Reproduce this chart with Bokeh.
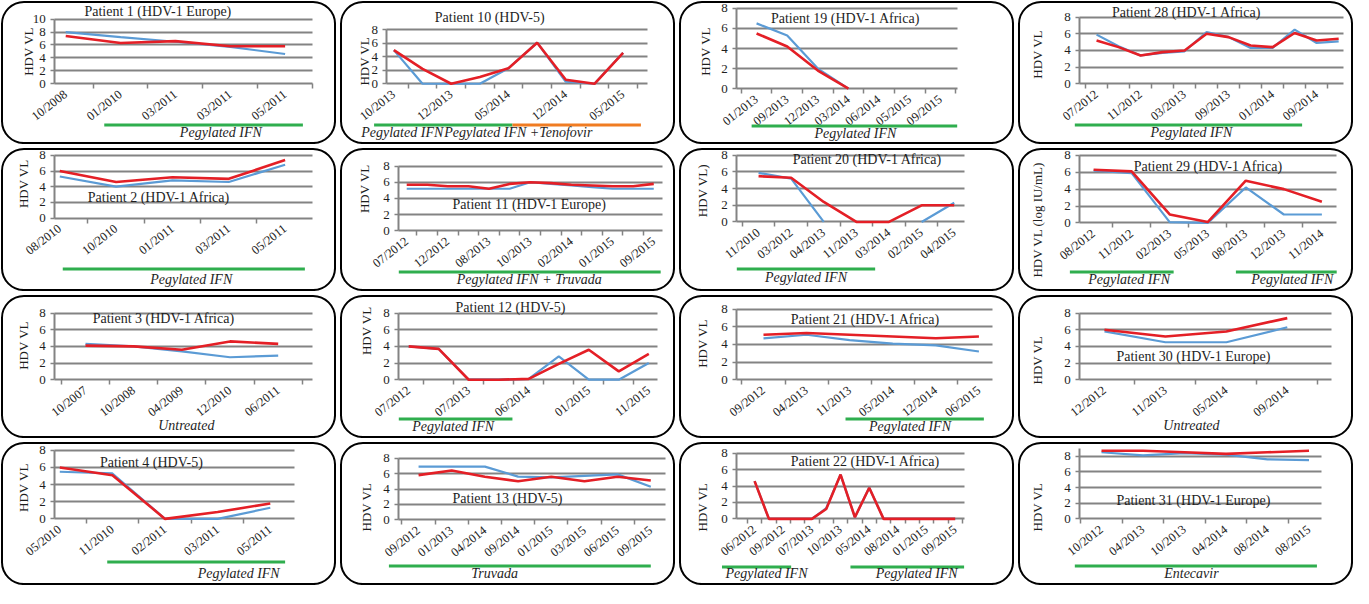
import math
import numpy as np
from bokeh.plotting import figure
from bokeh.models import Range1d, FixedTicker, Label, BoxAnnotation, LinearAxis, Grid
from bokeh.layouts import column, row
from bokeh.embed import file_html
from bokeh.resources import INLINE

NaN = float("nan")

# ---------------- data ----------------
P1_LABELS = ["10/2008", "01/2010", "03/2011", "03/2011", "05/2011"]
P1_BLUE = [8.0, 7.2, 6.5, 5.7, 4.6]
P1_RED = [7.4, 6.3, 6.6, 5.8, 5.8]

P10_LABELS = ["10/2013", "", "12/2013", "", "05/2014", "", "12/2014", "", "05/2015"]
P10_BLUE = [5.0, 0.0, 0.0, 0.0, 2.3, 6.1, 0.3, 0.0, 4.6]
P10_RED = [5.0, 2.2, 0.0, 1.0, 2.3, 6.1, 0.6, 0.0, 4.6]

P19_LABELS = ["01/2013", "09/2013", "12/2013", "03/2014", "06/2014", "05/2015", "09/2015"]
P19_BLUE = [6.5, 5.3, 2.0, 0.0, NaN, NaN, NaN]
P19_RED = [5.5, 4.2, 1.8, 0.0, NaN, NaN, NaN]

P28_LABELS = ["07/2012", "", "11/2012", "", "03/2013", "", "09/2013", "", "01/2014", "", "09/2014", ""]
P28_BLUE = [5.9, 4.5, 3.4, 3.7, 3.9, 6.2, 5.6, 4.3, 4.3, 6.5, 4.9, 5.1]
P28_RED = [5.2, 4.4, 3.4, 3.8, 4.0, 6.0, 5.6, 4.6, 4.4, 6.1, 5.2, 5.4]

P2_LABELS = ["08/2010", "10/2010", "01/2011", "03/2011", "05/2011"]
P2_BLUE = [5.3, 4.0, 4.8, 4.6, 6.8]
P2_RED = [6.0, 4.6, 5.2, 5.0, 7.4]

P11_LABELS = ["07/2012", "", "12/2012", "", "08/2013", "", "10/2013", "", "02/2014", "", "01/2015", "", "09/2015"]
P11_BLUE = [5.2, 5.2, 5.2, 5.2, 5.2, 5.2, 6.0, 5.8, 5.6, 5.4, 5.2, 5.2, 5.2]
P11_RED = [5.7, 5.7, 5.5, 5.5, 5.2, 5.8, 6.0, 5.9, 5.7, 5.6, 5.5, 5.5, 5.8]

P20_LABELS = ["11/2010", "03/2012", "04/2013", "11/2013", "03/2014", "02/2015", "04/2015"]
P20_BLUE = [5.9, 5.2, 0.0, NaN, NaN, 0.0, 2.3]
P20_RED = [5.5, 5.3, 2.4, 0.0, 0.0, 2.0, 2.0]

P29_LABELS = ["08/2012", "11/2012", "02/2013", "05/2013", "08/2013", "12/2013", "11/2014"]
P29_BLUE = [6.2, 5.9, 0.1, 0.0, 4.2, 1.0, 1.0]
P29_RED = [6.3, 6.1, 1.0, 0.1, 5.0, 4.0, 2.5]

P3_LABELS = ["10/2007", "10/2008", "04/2009", "12/2010", "06/2011"]
P3_BLUE = [4.3, 4.0, 3.4, 2.7, 2.9]
P3_RED = [4.1, 4.0, 3.6, 4.6, 4.3]

P12_LABELS = ["07/2012", "", "07/2013", "", "06/2014", "", "01/2015", "", "11/2015"]
P12_BLUE = [4.0, 3.7, 0.0, 0.0, 0.1, 2.8, 0.0, 0.0, 2.0]
P12_RED = [4.0, 3.7, 0.0, 0.0, 0.1, 1.9, 3.6, 1.0, 3.1]

P21_LABELS = ["09/2012", "04/2013", "11/2013", "05/2014", "12/2014", "06/2015"]
P21_BLUE = [4.7, 5.1, 4.5, 4.1, 3.9, 3.2]
P21_RED = [5.1, 5.3, 5.1, 4.9, 4.7, 4.9]

P30_LABELS = ["12/2012", "11/2013", "05/2014", "09/2014"]
P30_BLUE = [5.8, 4.5, 4.5, 6.3]
P30_RED = [6.0, 5.2, 5.8, 7.4]

P4_LABELS = ["05/2010", "11/2010", "02/2011", "03/2011", "05/2011"]
P4_BLUE = [5.5, 5.3, 0.0, 0.0, 1.3]
P4_RED = [6.0, 5.1, 0.0, 0.8, 1.8]

P13_LABELS = ["09/2012", "01/2013", "04/2014", "09/2014", "01/2015", "03/2015", "06/2015", "09/2015"]
P13_BLUE = [6.9, 6.9, 6.9, 5.6, 5.5, 5.7, 5.9, 4.3]
P13_RED = [5.8, 6.4, 5.6, 5.0, 5.6, 5.0, 5.6, 5.1]

P22_LABELS = ["06/2012", "", "09/2012", "", "07/2013", "", "10/2013", "", "05/2014", "",
              "08/2014", "", "01/2015", "", "09/2015"]
P22_BLUE = [4.6, 0, 0, 0, 0, 1.3, 5.4, 0.2, 3.8, 0, 0, 0, 0, 0, 0]
P22_RED = [4.6, 0, 0, 0, 0, 1.2, 5.4, 0.2, 3.8, 0, 0, 0, 0, 0, 0]

P31_LABELS = ["10/2012", "04/2013", "10/2013", "04/2014", "08/2014", "08/2015"]
P31_BLUE = [8.5, 8.1, 8.4, 8.2, 7.6, 7.5]
P31_RED = [8.7, 8.7, 8.5, 8.3, 8.5, 8.7]

# ---------------- style ----------------
BLUE = "#5b9bd5"
RED = "#e41f26"
GREEN = "#2fae4e"
ORANGE = "#f07c22"
GRAY = "#838383"
INK = "#1e1e1e"
SERIF = "Liberation Serif"

PW, PH = 340.0, 147.0   # reference panel units
FW, FH = 336, 144       # figure size in pixels

HAS_CROSS = "cross_bounds" in Grid.properties()
HAS_RADIUS = "border_radius" in BoxAnnotation.properties()


def make_panel(labels, blue, red, title, ytop, geo, ylabel="HDV VL", bars=(), notes=(), ybound=None):
    n = len(labels)
    p0, pN = geo["p0"], geo["pN"]
    dx = (pN - p0) / (n - 1)
    v = ytop / (geo["y0"] - geo["yT"])
    xr = Range1d(-p0 / dx, (PW - p0) / dx)
    yr = Range1d(-(PH - geo["y0"]) * v, ytop + geo["yT"] * v)
    p = figure(width=FW, height=FH, x_range=xr, y_range=yr, x_axis_type=None, y_axis_type=None,
               output_backend="svg", toolbar_location=None, min_border=0)
    p.min_border_left = p.min_border_right = p.min_border_top = p.min_border_bottom = 0
    p.outline_line_color = None
    p.background_fill_color = "white"
    p.border_fill_color = "white"
    p.extra_x_ranges = {"px": Range1d(0, PW)}
    p.extra_y_ranges = {"py": Range1d(PH, 0)}

    xa = (geo["axL"] - p0) / dx
    xb = (geo["axR"] - p0) / dx

    # horizontal grid lines
    gticks = list(range(2, ytop + 1, 2))
    if HAS_CROSS:
        g = Grid(dimension=1, ticker=FixedTicker(ticks=gticks), grid_line_color=GRAY,
                 grid_line_width=2, cross_bounds=(xa, xb))
        p.add_layout(g)
    else:
        p.segment(x0=[xa] * len(gticks), x1=[xb] * len(gticks), y0=gticks, y1=gticks,
                  line_color=GRAY, line_width=2)

    # x axis (categories)
    idx = list(range(n))
    major = [i for i in idx if labels[i]]
    minor = [k + 0.5 for k in range(-1, n) if xa - 1e-6 <= k + 0.5 <= xb + 1e-6]
    xaxis = LinearAxis(fixed_location=0, bounds=(xa, xb),
                       ticker=FixedTicker(ticks=major, minor_ticks=minor),
                       major_label_overrides={i: labels[i] for i in major},
                       major_label_orientation=0.66,
                       major_label_text_font=SERIF, major_label_text_font_size="12.5px",
                       major_label_text_color=INK, major_label_standoff=4,
                       major_tick_out=0, major_tick_in=0,
                       minor_tick_out=5, minor_tick_in=0, minor_tick_line_color=GRAY,
                       minor_tick_line_width=1.5,
                       axis_line_color=GRAY, axis_line_width=2)
    xaxis.level = "underlay"
    p.add_layout(xaxis, "below")

    yaxis = LinearAxis(fixed_location=xa, bounds=(0, ybound if ybound else ytop),
                       ticker=FixedTicker(ticks=list(range(0, ytop + 1, 2)), minor_ticks=[]),
                       major_label_text_font=SERIF, major_label_text_font_size="13px",
                       major_label_text_color=INK, major_label_standoff=5,
                       major_tick_out=4, major_tick_in=0, major_tick_line_color=GRAY,
                       major_tick_line_width=1.5,
                       minor_tick_out=0, minor_tick_in=0,
                       axis_line_color=GRAY, axis_line_width=2)
    yaxis.level = "underlay"
    p.add_layout(yaxis, "left")

    # series
    p.line(idx, np.array(blue, dtype=float), line_color=BLUE, line_width=2.2)
    p.line(idx, np.array(red, dtype=float), line_color=RED, line_width=2.6)

    # title
    p.add_layout(Label(x=geo["tx"], y=geo["ty"], x_range_name="px", y_range_name="py", text=title,
                       text_align="center", text_baseline="middle", text_font=SERIF,
                       text_font_size="14px", text_color=INK))
    # y label
    p.add_layout(Label(x=geo["lx"], y=geo["ly"], x_range_name="px", y_range_name="py", text=ylabel,
                       angle=math.pi / 2, text_align="center", text_baseline="middle",
                       text_font=SERIF, text_font_size="13px", text_color=INK))
    # treatment bars and notes
    for (x0, x1, col, yy) in bars:
        p.segment(x0=[x0], x1=[x1], y0=[yy], y1=[yy], x_range_name="px", y_range_name="py",
                  line_color=col, line_width=3)
    for (txt, tx, ty, al) in notes:
        p.add_layout(Label(x=tx, y=ty, x_range_name="px", y_range_name="py", text=txt,
                           text_align=al, text_baseline="middle", text_font=SERIF,
                           text_font_style="italic", text_font_size="14px", text_color=INK))
    # rounded frame
    kw = dict(left=1.5, right=PW - 1.5, top=1.5, bottom=PH - 1.5, x_range_name="px",
              y_range_name="py", fill_alpha=0, fill_color=None, line_color="black",
              line_alpha=1.0, line_width=2)
    if HAS_RADIUS:
        kw["border_radius"] = 22
    p.add_layout(BoxAnnotation(**kw))
    return p


C = "center"
NY = 135  # vertical position of the treatment captions (panel units)
figs = [
    make_panel(P1_LABELS, P1_BLUE, P1_RED, "Patient 1  (HDV-1 Europe)", 10,
               dict(axL=55, p0=66, pN=288, axR=316, yT=19, y0=85, tx=161, ty=11, lx=28, ly=52),
               bars=[(105, 306, GREEN, 127)], notes=[("Pegylated IFN", 223, NY, C)]),
    make_panel(P10_LABELS, P10_BLUE, P10_RED, "Patient 10 (HDV-5)", 8,
               dict(axL=48, p0=55, pN=287, axR=312, yT=30, y0=85, tx=152, ty=17, lx=25, ly=62),
               bars=[(35, 175, GREEN, 127), (175, 305, ORANGE, 127)],
               notes=[("Pegylated IFN", 105, NY, "right"), ("Pegylated IFN +Tenofovir", 106, NY, "left")]),
    make_panel(P19_LABELS, P19_BLUE, P19_RED, "Patient 19 (HDV-1 Africa)", 8,
               dict(axL=59, p0=79, pN=265, axR=282, yT=8, y0=90, tx=169, ty=18, lx=27, ly=52),
               bars=[(74, 282, GREEN, 128)], notes=[("Pegylated IFN", 179, 136, C)]),
    make_panel(P28_LABELS, P28_BLUE, P28_RED, "Patient 28 (HDV-1 Africa)", 8,
               dict(axL=63, p0=80, pN=325, axR=330, yT=17, y0=85, tx=171, ty=12, lx=20, ly=55),
               bars=[(58, 288, GREEN, 127)], notes=[("Pegylated IFN", 176, NY, C)]),

    make_panel(P2_LABELS, P2_BLUE, P2_RED, "Patient 2  (HDV-1 Africa)", 8,
               dict(axL=55, p0=60, pN=288, axR=316, yT=8, y0=72, tx=162, ty=51, lx=23, ly=37),
               bars=[(63, 308, GREEN, 124)], notes=[("Pegylated IFN", 193, NY, C)]),
    make_panel(P11_LABELS, P11_BLUE, P11_RED, "Patient 11 (HDV-1 Europe)", 8,
               dict(axL=60, p0=68, pN=318, axR=327, yT=19, y0=85, tx=192, ty=58, lx=25, ly=42),
               bars=[(60, 325, GREEN, 127)], notes=[("Pegylated IFN + Truvada", 192, NY, C)]),
    make_panel(P20_LABELS, P20_BLUE, P20_RED, "Patient 20 (HDV-1 Africa)", 8,
               dict(axL=59, p0=81, pN=279, axR=289, yT=8, y0=76, tx=191, ty=12, lx=24, ly=44),
               ylabel="HDV VL)",
               bars=[(59, 199, GREEN, 124)], notes=[("Pegylated IFN", 129, 133, C)]),
    make_panel(P29_LABELS, P29_BLUE, P29_RED, "Patient 29 (HDV-1 Africa)", 8,
               dict(axL=63, p0=77, pN=308, axR=323, yT=8, y0=77, tx=193, ty=19, lx=20, ly=72),
               ylabel="HDV VL  (log IU/mL)",
               bars=[(53, 158, GREEN, 127), (221, 323, GREEN, 127)],
               notes=[("Pegylated IFN", 113, NY, C), ("Pegylated IFN", 278, NY, C)]),

    make_panel(P3_LABELS, P3_BLUE, P3_RED, "Patient 3  (HDV-1 Africa)", 8,
               dict(axL=55, p0=86, pN=281, axR=316, yT=19, y0=87, tx=167, ty=24, lx=23, ly=52),
               notes=[("Untreated", 188, 134, C)]),
    make_panel(P12_LABELS, P12_BLUE, P12_RED, "Patient 12 (HDV-5)", 8,
               dict(axL=60, p0=70, pN=313, axR=322, yT=19, y0=87, tx=173, ty=13, lx=27, ly=37),
               bars=[(60, 175, GREEN, 127)], notes=[("Pegylated IFN", 115, NY, C)]),
    make_panel(P21_LABELS, P21_BLUE, P21_RED, "Patient 21 (HDV-1 Africa)", 8,
               dict(axL=59, p0=86, pN=304, axR=318, yT=15, y0=87, tx=189, ty=26, lx=24, ly=50),
               bars=[(169, 309, GREEN, 127)], notes=[("Pegylated  IFN", 236, NY, C)]),
    make_panel(P30_LABELS, P30_BLUE, P30_RED, "Patient 30 (HDV-1 Europe)", 8,
               dict(axL=63, p0=88, pN=273, axR=318, yT=19, y0=87, tx=178, ty=63, lx=20, ly=67),
               notes=[("Untreated", 176, 134, C)]),

    make_panel(P4_LABELS, P4_BLUE, P4_RED, "Patient 4    (HDV-5)", 8,
               dict(axL=55, p0=60, pN=273, axR=298, yT=9, y0=79, tx=158, ty=21, lx=23, ly=47),
               bars=[(108, 288, GREEN, 123)], notes=[("Pegylated IFN", 241, NY, C)]),
    make_panel(P13_LABELS, P13_BLUE, P13_RED, "Patient 13 (HDV-5)", 8,
               dict(axL=60, p0=80, pN=315, axR=330, yT=17, y0=80, tx=170, ty=58, lx=27, ly=67),
               bars=[(50, 315, GREEN, 127)], notes=[("Truvada", 157, NY, C)]),
    make_panel(P22_LABELS, P22_BLUE, P22_RED, "Patient 22 (HDV-1 Africa)", 8,
               dict(axL=59, p0=77, pN=280, axR=289, yT=12, y0=79, tx=189, ty=20, lx=24, ly=67),
               bars=[(44, 114, GREEN, 128), (174, 289, GREEN, 128)],
               notes=[("Pegylated IFN", 89, NY, C), ("Pegylated IFN", 241, NY, C)]),
    make_panel(P31_LABELS, P31_BLUE, P31_RED, "Patient 31 (HDV-1 Europe)", 8,
               dict(axL=63, p0=85, pN=295, axR=308, yT=15, y0=79, tx=178, ty=60, lx=20, ly=67),
               bars=[(58, 303, GREEN, 127)], notes=[("Entecavir", 176, NY, C)], ybound=9),
]

rows = [row(*figs[i * 4:(i + 1) * 4], spacing=3) for i in range(4)]
layout = column(*rows, spacing=3)

open("out.html", "w").write(file_html(layout, INLINE, title="HDV viral load"))
